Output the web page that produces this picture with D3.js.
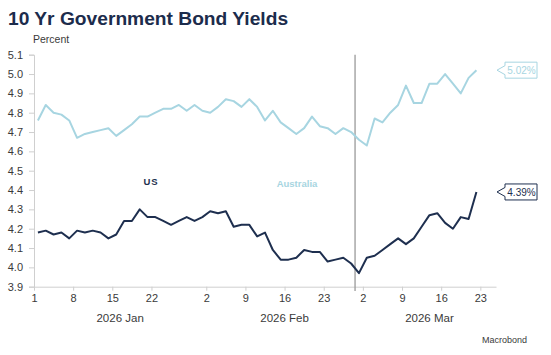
<!DOCTYPE html>
<html><head><meta charset="utf-8">
<script src="https://cdn.jsdelivr.net/npm/d3@7"></script>
<style>
html,body{margin:0;padding:0;background:#fff;}
svg{display:block;font-family:"Liberation Sans",Arial,sans-serif;}
</style></head>
<body>
<svg id="c" width="551" height="355"></svg>
<script>
// ---- data ----
const dates = [
 "2026-01-01","2026-01-02","2026-01-05","2026-01-06","2026-01-07","2026-01-08","2026-01-09",
 "2026-01-12","2026-01-13","2026-01-14","2026-01-15","2026-01-16","2026-01-19","2026-01-20",
 "2026-01-21","2026-01-22","2026-01-23","2026-01-26","2026-01-27","2026-01-28","2026-01-29",
 "2026-01-30","2026-02-02","2026-02-03","2026-02-04","2026-02-05","2026-02-06","2026-02-09",
 "2026-02-10","2026-02-11","2026-02-12","2026-02-13","2026-02-16","2026-02-17","2026-02-18",
 "2026-02-19","2026-02-20","2026-02-23","2026-02-24","2026-02-25","2026-02-26","2026-02-27",
 "2026-03-02","2026-03-03","2026-03-04","2026-03-05","2026-03-06","2026-03-09","2026-03-10",
 "2026-03-11","2026-03-12","2026-03-13","2026-03-16","2026-03-17","2026-03-18","2026-03-19",
 "2026-03-20"];
const usYield = [4.18,4.19,4.17,4.18,4.15,4.19,4.18,4.19,4.18,4.15,4.17,4.24,4.24,4.30,4.26,4.26,4.24,4.22,4.24,4.26,
 4.24,4.26,4.29,4.28,4.29,4.21,4.22,4.22,4.16,4.18,4.09,4.04,4.04,4.05,4.09,4.08,4.08,4.03,4.04,4.05,
 4.02,3.97,4.05,4.06,4.09,4.12,4.15,4.12,4.15,4.21,4.27,4.28,4.23,4.20,4.26,4.25,4.39];
const auYield = [4.76,4.84,4.80,4.79,4.76,4.67,4.69,4.70,4.71,4.72,4.68,4.71,4.74,4.78,4.78,4.80,4.82,4.82,4.84,4.81,
 4.84,4.81,4.80,4.83,4.87,4.86,4.83,4.87,4.83,4.76,4.81,4.75,4.72,4.69,4.72,4.78,4.73,4.72,4.69,4.72,
 4.70,4.66,4.63,4.77,4.75,4.80,4.84,4.94,4.85,4.85,4.95,4.95,5.00,4.95,4.90,4.98,5.02];
const seriesNames = ["US","Australia"];
const tickDates = ["2026-01-01","2026-01-08","2026-01-15","2026-01-22","2026-02-02","2026-02-09",
 "2026-02-16","2026-02-23","2026-03-02","2026-03-09","2026-03-16","2026-03-23"];
const tickLabels = ["1","8","15","22","2","9","16","23","2","9","16","23"];
const monthLabels = ["2026 Jan","2026 Feb","2026 Mar"];
const monthStarts = ["2026-01-01","2026-02-01","2026-03-01","2026-04-01"];
const yTicks = [3.9,4.0,4.1,4.2,4.3,4.4,4.5,4.6,4.7,4.8,4.9,5.0,5.1];
const markerDate = "2026-02-27";
const axisEndDate = "2026-03-25";

// ---- helpers ----
const parse = d3.utcParse("%Y-%m-%d");
const origin = parse("2026-01-01");
function bdIndex(s){ // business days since origin
  const d = parse(s);
  let n = 0;
  for (let t = new Date(origin); t < d; t = d3.utcDay.offset(t,1)) {
    const wd = t.getUTCDay(); if (wd !== 0 && wd !== 6) n++;
  }
  return n;
}

const svg = d3.select("#c");
const colUS = "#1e2f4f", colAU = "#a7d5e1", txt = "#3a3a3a";

const x = d3.scaleLinear().domain([0, bdIndex(axisEndDate)]).range([34, 496]);
const y = d3.scaleLinear().domain([3.9, 5.1]).range([286.7, 54.7]);

// title
svg.append("text").attr("x",8).attr("y",25).attr("font-size",19.2).attr("font-weight","bold")
  .attr("fill","#1c2c4c").text("10 Yr Government Bond Yields");
svg.append("text").attr("x",33).attr("y",43).attr("font-size",10.5).attr("fill",txt).text("Percent");

// y axis
const yAxis = d3.axisLeft(y).tickValues(yTicks).tickFormat(d3.format(".1f")).tickSize(5).tickPadding(6);
const gy = svg.append("g").attr("transform","translate(34,0)").call(yAxis);
gy.select(".domain").attr("stroke","#cfcfcf");
gy.selectAll(".tick line").attr("stroke","#cfcfcf");
gy.selectAll(".tick text").attr("font-size",11).attr("fill",txt).attr("font-family","Liberation Sans, Arial, sans-serif");

// x axis
const tickIdx = tickDates.map(bdIndex);
const xAxis = d3.axisBottom(x).tickValues(tickIdx).tickFormat((d,i)=>tickLabels[i]).tickSize(4).tickPadding(4).tickSizeOuter(0);
const gx = svg.append("g").attr("transform","translate(0,286.7)").call(xAxis);
gx.select(".domain").attr("stroke","#cfcfcf");
gx.selectAll(".tick line").attr("stroke","#cfcfcf");
gx.selectAll(".tick text").attr("font-size",11).attr("fill",txt).attr("font-family","Liberation Sans, Arial, sans-serif");

// month labels
const xEnd = x.domain()[1];
monthLabels.forEach((m,i)=>{
  const a = bdIndex(monthStarts[i]);
  const b = Math.min(bdIndex(monthStarts[i+1]), xEnd);
  svg.append("text").attr("x", x((a+b)/2)).attr("y",322).attr("text-anchor","middle")
    .attr("font-size",11.5).attr("fill",txt).text(m);
});

// marker line
svg.append("line").attr("x1",x(bdIndex(markerDate))).attr("x2",x(bdIndex(markerDate)))
  .attr("y1",y(5.1)).attr("y2",291).attr("stroke","#9a9a9a").attr("stroke-width",1.3);

// lines
const pts = v => v.map((d,i)=>[x(bdIndex(dates[i])+0.5), y(d)]);
const line = d3.line();
svg.append("path").attr("d",line(pts(auYield))).attr("fill","none").attr("stroke",colAU).attr("stroke-width",2).attr("stroke-linejoin","round");
svg.append("path").attr("d",line(pts(usYield))).attr("fill","none").attr("stroke",colUS).attr("stroke-width",2).attr("stroke-linejoin","round");

// series labels
svg.append("text").attr("x",151).attr("y",185).attr("text-anchor","middle").attr("font-size",9.5)
  .attr("font-weight","bold").attr("letter-spacing",1).attr("fill",colUS).text(seriesNames[0]);
svg.append("text").attr("x",297).attr("y",187).attr("text-anchor","middle").attr("font-size",9.5)
  .attr("font-weight","bold").attr("fill",colAU).text(seriesNames[1]);

// end labels
function endLabel(val, col){
  const cy = y(val), tip = 497, bx = 505, bw = 32, h = 16;
  const p = [[tip,cy],[bx,cy-4.5],[bx,cy-h/2],[bx+bw,cy-h/2],[bx+bw,cy+h/2],[bx,cy+h/2],[bx,cy+4.5]];
  svg.append("path").attr("d","M"+p.join("L")+"Z").attr("fill","#fff").attr("stroke",col).attr("stroke-width",1);
  svg.append("text").attr("x",bx+bw/2+0.5).attr("y",cy+3.6).attr("text-anchor","middle").attr("font-size",10)
    .attr("fill",col).text(d3.format(".2f")(val)+"%");
}
endLabel(auYield[auYield.length-1], colAU);
endLabel(usYield[usYield.length-1], colUS);

svg.append("text").attr("x",527).attr("y",343).attr("text-anchor","end").attr("font-size",9).attr("fill",txt).text("Macrobond");
</script>
</body></html>
